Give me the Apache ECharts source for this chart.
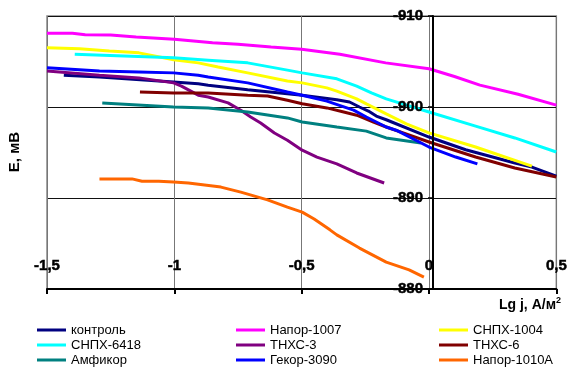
<!DOCTYPE html>
<html><head><meta charset="utf-8">
<script src="https://cdn.jsdelivr.net/npm/echarts@6/dist/echarts.min.js"></script>
<style>html,body{margin:0;padding:0;background:#fff}#c{width:570px;height:372px}</style>
</head><body><div id="c"></div>
<script>
const names = ['контроль','Напор-1007','СНПХ-1004','СНПХ-6418','ТНХС-3','ТНХС-6','Амфикор','Гекор-3090','Напор-1010А'];
const colors = ['#000080','#FF00FF','#FFFF00','#00FFFF','#800080','#800000','#008080','#0000FF','#FF6600'];

const kontrolX = [-1.434,-1.294,-1.003,-0.906,-0.867,-0.712,-0.498,-0.362,-0.312,-0.273,-0.238,-0.207,-0.168,0,0.144,0.337,0.404,0.5];
const kontrolY = [-903.5,-903.3,-902.75,-902.55,-902.4,-901.9,-901.3,-900.8,-900.55,-900.0,-899.55,-899.0,-898.6,-896.7,-895.3,-893.85,-893.4,-892.4];

const napor1007X = [-1.5,-1.4,-1.35,-1.25,-1.15,-1.0,-0.85,-0.75,-0.62,-0.5,-0.35,-0.17,0,0.1,0.2,0.35,0.5];
const napor1007Y = [-908.1,-908.1,-907.95,-907.9,-907.7,-907.45,-907.05,-906.9,-906.6,-906.35,-905.8,-904.85,-904.2,-903.35,-902.4,-901.4,-900.2];

const snpx1004X = [-1.5,-1.372,-1.255,-1.139,-1.003,-0.906,-0.828,-0.712,-0.556,-0.498,-0.401,-0.362,-0.284,-0.246,-0.168,-0.089,0,0.183,0.404];
const snpx1004Y = [-906.5,-906.4,-906.15,-905.95,-905.2,-904.85,-904.4,-903.75,-902.85,-902.65,-902.1,-901.75,-900.9,-900.35,-899.25,-898.15,-897.15,-895.6,-893.5];

const snpx6418X = [-1.391,-1.003,-0.867,-0.712,-0.556,-0.498,-0.362,-0.284,-0.226,-0.168,0,0.183,0.337,0.5];
const snpx6418Y = [-905.8,-905.4,-905.15,-904.85,-904.05,-903.75,-903.1,-902.3,-901.55,-900.9,-899.45,-897.9,-896.6,-895.05];

const tnxs3X = [-1.5,-1.294,-1.139,-1.003,-0.972,-0.906,-0.867,-0.789,-0.739,-0.7,-0.661,-0.607,-0.556,-0.498,-0.44,-0.362,-0.284,-0.176];
const tnxs3Y = [-903.95,-903.5,-903.2,-902.65,-902.3,-901.3,-901.1,-900.45,-899.65,-898.9,-898.25,-897.15,-896.35,-895.25,-894.5,-893.75,-892.75,-891.65];

const tnxs6X = [-1.135,-1.003,-0.867,-0.712,-0.634,-0.556,-0.498,-0.401,-0.335,-0.284,-0.218,-0.168,-0.09,0,0.183,0.337,0.5];
const tnxs6Y = [-901.65,-901.55,-901.55,-901.3,-901.2,-900.75,-900.35,-899.9,-899.45,-899.1,-898.35,-897.8,-897.05,-896.15,-894.5,-893.3,-892.3];

const amfikorX = [-1.283,-1.003,-0.867,-0.712,-0.556,-0.498,-0.362,-0.246,-0.168,-0.032];
const amfikorY = [-900.45,-900.0,-899.9,-899.45,-898.8,-898.35,-897.8,-897.35,-896.6,-896.05];

const gekorX = [-1.5,-1.294,-1.139,-1.003,-0.906,-0.867,-0.712,-0.556,-0.498,-0.401,-0.343,-0.296,-0.246,-0.207,-0.168,-0.129,0,0.105,0.19];
const gekorY = [-904.3,-903.95,-903.85,-903.75,-903.5,-903.3,-902.65,-901.65,-901.3,-900.65,-900.1,-899.65,-898.9,-898.35,-897.8,-897.45,-895.6,-894.5,-893.75];

const napor1010X = [-1.294,-1.166,-1.127,-1.061,-1.003,-0.945,-0.817,-0.739,-0.634,-0.556,-0.498,-0.451,-0.389,-0.362,-0.273,-0.168,-0.078,-0.02];
const napor1010Y = [-892.1,-892.1,-891.85,-891.85,-891.75,-891.65,-891.2,-890.65,-889.8,-889.0,-888.45,-887.7,-886.5,-885.95,-884.5,-882.95,-882.1,-881.3];

const xTicks = [-1.5,-1,-0.5,0,0.5];
const yTicks = [-910,-900,-890,-880];

const allX = [kontrolX,napor1007X,snpx1004X,snpx6418X,tnxs3X,tnxs6X,amfikorX,gekorX,napor1010X];
const allY = [kontrolY,napor1007Y,snpx1004Y,snpx6418Y,tnxs3Y,tnxs6Y,amfikorY,gekorY,napor1010Y];

const FONT = '"Liberation Sans", Arial, sans-serif';
const W = 570, GL = 47, GR = 8;
const plotW = W - GL - GR;
const xMin = xTicks[0], xMax = xTicks[xTicks.length-1];
const yMin = yTicks[0], yMax = yTicks[yTicks.length-1];
// pixel offset of the y axis so that it crosses the x axis at x = 0
const yAxisOffset = -Math.round((0 - xMin) / (xMax - xMin) * plotW);

const chart = echarts.init(document.getElementById('c'), null, {renderer:'canvas'});

const series = names.map((n,i)=>({
  name:n, type:'line', symbol:'none', smooth:false, yAxisIndex:0,
  data: allX[i].map((x,j)=>[x, allY[i][j]]),
  lineStyle:{color:colors[i], width:3}, itemStyle:{color:colors[i]},
  emphasis:{disabled:true}, animation:false
}));

function legend(left, data){
  return {left:left, top:323, orient:'vertical', padding:0, itemGap:1, itemWidth:29, itemHeight:3,
    icon:'rect', data:data, selectedMode:false,
    textStyle:{fontFamily:FONT, fontSize:13, color:'#000', lineHeight:14}};
}

const tickLabel = {fontFamily:FONT, fontSize:15, fontWeight:'bold', color:'#000', textBorderColor:'#000', textBorderWidth:0.5};

chart.setOption({
  animation:false,
  backgroundColor:'#fff',
  grid:{left:GL, right:GR, top:16, bottom:83, show:true, borderColor:'#888', borderWidth:1.5, backgroundColor:'transparent'},
  xAxis:{type:'value', min:xMin, max:xMax, interval:0.5, position:'bottom',
    axisLine:{onZero:false, lineStyle:{color:'#000', width:2}},
    axisTick:{show:true, length:5, lineStyle:{color:'#000', width:2}},
    axisLabel:Object.assign({inside:true, margin:16, formatter:v=>String(v).replace('.',',')}, tickLabel),
    splitLine:{show:true, lineStyle:{color:'#777', width:1}}},
  yAxis:[
    {type:'value', inverse:true, min:yMin, max:yMax, interval:10, position:'left',
      axisLine:{show:false}, axisTick:{show:false}, axisLabel:{show:false},
      splitLine:{show:true, lineStyle:{color:'#111', width:1}}},
    {type:'value', inverse:true, min:yMin, max:yMax, interval:10, position:'left', offset:yAxisOffset, z:10,
      axisLine:{show:true, onZero:false, lineStyle:{color:'#000', width:2}},
      axisTick:{show:true, length:5, lineStyle:{color:'#000', width:1.5}},
      axisLabel:Object.assign({margin:10}, tickLabel),
      splitLine:{show:false}}
  ],
  legend:[
    legend(37,['контроль','СНПХ-6418','Амфикор']),
    legend(236,['Напор-1007','ТНХС-3','Гекор-3090']),
    legend(439,['СНПХ-1004','ТНХС-6','Напор-1010А'])
  ],
  graphic:[
    {type:'text', x:15, y:152, rotation:Math.PI/2,
      style:{text:'Е, мВ', fontFamily:FONT, fontSize:15, fontWeight:'bold', fill:'#000', align:'center', verticalAlign:'middle'}},
    {type:'text', x:561, y:305,
      style:{text:'{a|Lg j, А/м}{s|2}', align:'right', verticalAlign:'middle',
        rich:{a:{fontFamily:FONT, fontSize:14, fontWeight:'bold', fill:'#000'},
              s:{fontFamily:FONT, fontSize:9, fontWeight:'bold', fill:'#000', padding:[0,0,9,0]}}}}
  ],
  series:series
});
</script></body></html>
